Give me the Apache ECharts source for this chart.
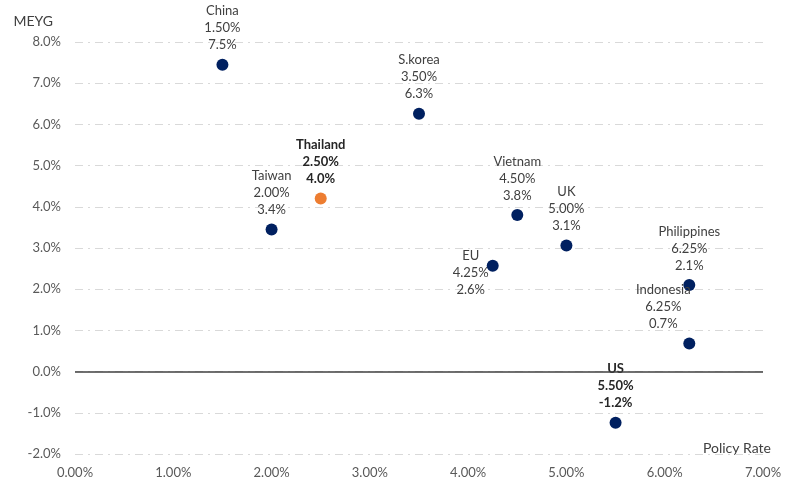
<!DOCTYPE html>
<html>
<head>
<meta charset="utf-8">
<script src="https://cdn.jsdelivr.net/npm/echarts@6/dist/echarts.min.js"></script>
<style>
  html, body { margin: 0; padding: 0; background: #fff; }
  #main { width: 788px; height: 484px; }
</style>
</head>
<body>
<div id="main"></div>
<script>
// data
const countries = ['China', 'S.korea', 'Thailand', 'Taiwan', 'Vietnam', 'UK', 'EU', 'Philippines', 'Indonesia', 'US'];
const policyRate = [1.5, 3.5, 2.5, 2.0, 4.5, 5.0, 4.25, 6.25, 6.25, 5.5];
const meyg = [7.45, 6.26, 4.2, 3.45, 3.8, 3.06, 2.57, 2.1, 0.68, -1.24];
const rateLabels = ['1.50%', '3.50%', '2.50%', '2.00%', '4.50%', '5.00%', '4.25%', '6.25%', '6.25%', '5.50%'];
const meygLabels = ['7.5%', '6.3%', '4.0%', '3.4%', '3.8%', '3.1%', '2.6%', '2.1%', '0.7%', '-1.2%'];
const boldOnes = ['Thailand', 'US'];
const highlight = 'Thailand';

const navy = '#002060';
const orange = '#ED7D31';
const font = 'Lato, "Liberation Sans", sans-serif';

// label nudges, in pixels
const nudge = {EU: {dy: 7}, Indonesia: {dx: -26}};

const points = countries.map((name, i) => {
  const item = {
    name: name,
    value: [policyRate[i], meyg[i]],
    itemStyle: {color: name === highlight ? orange : navy, opacity: 1},
    label: {
      formatter: name + '\n' + rateLabels[i] + '\n' + meygLabels[i],
      fontWeight: boldOnes.includes(name) ? 'bold' : 'normal',
      color: boldOnes.includes(name) ? '#262626' : '#404040'
    }
  };
  if (name === 'EU') {
    item.label.position = 'left';
    item.label.distance = 16;
  }
  return item;
});

const chart = echarts.init(document.getElementById('main'));
chart.setOption({
  backgroundColor: '#ffffff',
  animation: false,
  textStyle: {fontFamily: font},
  grid: {left: 75, right: 25, top: 42, bottom: 30},
  xAxis: {
    type: 'value',
    min: 0,
    max: 7,
    interval: 1,
    axisLine: {show: false},
    axisTick: {show: false},
    splitLine: {show: false},
    axisLabel: {
      formatter: v => v.toFixed(2) + '%',
      color: '#595959',
      fontSize: 13,
      margin: 12
    }
  },
  yAxis: {
    type: 'value',
    min: -2,
    max: 8,
    interval: 1,
    name: 'MEYG',
    nameGap: 14,
    nameTextStyle: {color: '#404040', fontSize: 14, align: 'right', padding: [0, 22, 0, 0]},
    axisLine: {show: false},
    axisTick: {show: false},
    axisLabel: {
      formatter: v => v.toFixed(1) + '%',
      color: '#595959',
      fontSize: 13,
      margin: 14
    },
    splitLine: {
      lineStyle: {color: '#d9d9d9', width: 1, type: [8, 5, 2, 5]}
    }
  },
  graphic: [{
    type: 'text',
    right: 17,
    top: 441,
    style: {text: 'Policy Rate', fill: '#404040', font: '14px ' + font}
  }],
  series: [{
    type: 'scatter',
    symbolSize: 12,
    data: points,
    label: {
      show: true,
      position: 'top',
      distance: 5,
      fontSize: 13,
      lineHeight: 17,
      align: 'center'
    },
    labelLayout: params => nudge[countries[params.dataIndex]] || {},
    markLine: {
      silent: true,
      symbol: 'none',
      label: {show: false},
      lineStyle: {color: '#404040', width: 1.5, type: 'solid'},
      data: [{yAxis: 0}]
    }
  }]
});
</script>
</body>
</html>
